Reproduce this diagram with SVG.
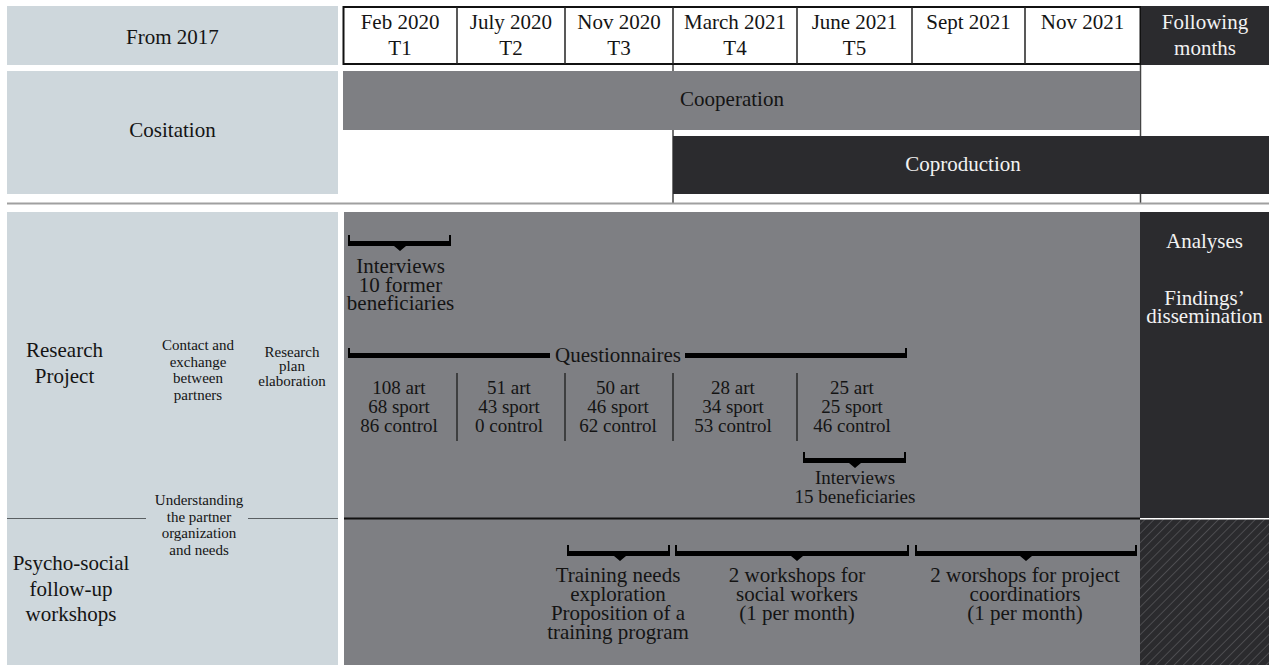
<svg xmlns="http://www.w3.org/2000/svg" width="1269" height="665" viewBox="0 0 1269 665">
<style>
text{font-family:'Liberation Serif','DejaVu Serif','Times New Roman',Times,serif;fill:#141414;text-anchor:middle}
.f21{font-size:21px}
.f19{font-size:19px}
.f15{font-size:15px}
.w{fill:#f2f2f2}
.panel{fill:#ced7dc}
.gray{fill:#7e7f83}
.dark{fill:#2b2b2e}
.br{fill:#000}
</style>
<defs>
<pattern id="hatch" patternUnits="userSpaceOnUse" width="6.5" height="6.5" patternTransform="rotate(45)">
<rect width="6.5" height="6.5" fill="#2b2b2e"/>
<line x1="0" y1="0" x2="0" y2="6.5" stroke="#606064" stroke-width="1.2"/>
</pattern>
</defs>
<rect width="1269" height="665" fill="#ffffff"/>

<g id="connectors">
<line x1="673" y1="64" x2="673" y2="203" stroke="#444" stroke-width="1.5"/>
<line x1="1140.5" y1="64" x2="1140.5" y2="203" stroke="#444" stroke-width="1.5"/>
<line x1="7" y1="203.5" x2="1269" y2="203.5" stroke="#a0a0a0" stroke-width="2"/>
</g>

<g id="from2017">
<rect class="panel" x="7" y="6" width="331" height="59"/>
<text class="f21" x="172.5" y="44" font-family="Liberation Serif, serif">From 2017</text>
</g>

<g id="header">
<rect x="343.5" y="7" width="797" height="57" fill="#fff" stroke="#111" stroke-width="2"/>
<g stroke="#222" stroke-width="1.5">
<line x1="457" y1="7" x2="457" y2="64"/>
<line x1="565" y1="7" x2="565" y2="64"/>
<line x1="673" y1="7" x2="673" y2="64"/>
<line x1="797" y1="7" x2="797" y2="64"/>
<line x1="912" y1="7" x2="912" y2="64"/>
<line x1="1025" y1="7" x2="1025" y2="64"/>
</g>
<text class="f21" x="400" y="29">Feb 2020</text>
<text class="f21" x="400" y="55">T1</text>
<text class="f21" x="511" y="29">July 2020</text>
<text class="f21" x="511" y="55">T2</text>
<text class="f21" x="619" y="29">Nov 2020</text>
<text class="f21" x="619" y="55">T3</text>
<text class="f21" x="735" y="29">March 2021</text>
<text class="f21" x="735" y="55">T4</text>
<text class="f21" x="854.5" y="29">June 2021</text>
<text class="f21" x="854.5" y="55">T5</text>
<text class="f21" x="968.5" y="29">Sept 2021</text>
<text class="f21" x="1082.5" y="29">Nov 2021</text>
</g>

<g id="following">
<rect class="dark" x="1141" y="6" width="128" height="59"/>
<text class="f21 w" x="1205" y="29">Following</text>
<text class="f21 w" x="1205" y="55">months</text>
</g>

<g id="cositation">
<rect class="panel" x="7" y="71" width="331" height="123"/>
<text class="f21" x="172.5" y="137">Cositation</text>
</g>

<g id="cooperation">
<rect class="gray" x="343" y="71" width="797" height="59"/>
<text class="f21" x="732" y="106">Cooperation</text>
</g>

<g id="coproduction">
<rect class="dark" x="673" y="136" width="596" height="58"/>
<text class="f21 w" x="963" y="171">Coproduction</text>
</g>

<g id="left-panel">
<rect class="panel" x="7" y="212" width="331" height="453"/>
<line x1="7" y1="518.5" x2="146" y2="518.5" stroke="#5a5f62" stroke-width="1.2"/>
<line x1="248" y1="518.5" x2="338" y2="518.5" stroke="#5a5f62" stroke-width="1.2"/>
</g>

<g id="research-project">
<text class="f21" x="64.5" y="357">Research</text>
<text class="f21" x="64.5" y="383">Project</text>
</g>

<g id="contact">
<text class="f15" x="198" y="350">Contact and</text>
<text class="f15" x="198" y="367">exchange</text>
<text class="f15" x="198" y="383">between</text>
<text class="f15" x="198" y="400">partners</text>
</g>

<g id="research-plan">
<text class="f15" x="292" y="357">Research</text>
<text class="f15" x="292" y="371">plan</text>
<text class="f15" x="292" y="386">elaboration</text>
</g>

<g id="understanding">
<text class="f15" x="199" y="505">Understanding</text>
<text class="f15" x="199" y="522">the partner</text>
<text class="f15" x="199" y="538">organization</text>
<text class="f15" x="199" y="555">and needs</text>
</g>

<g id="psycho-social">
<text class="f21" x="71" y="570">Psycho-social</text>
<text class="f21" x="71" y="596">follow-up</text>
<text class="f21" x="71" y="621">workshops</text>
</g>

<g id="main-area">
<rect class="gray" x="344" y="212" width="796" height="453"/>
<line x1="344" y1="518.5" x2="1140" y2="518.5" stroke="#111" stroke-width="2"/>
</g>

<g id="analyses">
<rect class="dark" x="1140" y="212" width="129" height="306"/>
<text class="f21 w" x="1204.5" y="248">Analyses</text>
<text class="f21 w" x="1204.5" y="305">Findings’</text>
<text class="f21 w" x="1204.5" y="323">dissemination</text>
</g>

<g id="hatched">
<rect x="1140" y="519.5" width="129" height="145.5" fill="url(#hatch)"/>
</g>

<g id="interviews-10">
<path class="br" d="M348 235 h2 v6 h99 v-6 h2 v11 H406 l-6 5 l-6 -5 H348 Z"/>
<text class="f21" x="400.5" y="273">Interviews</text>
<text class="f21" x="400.5" y="292">10 former</text>
<text class="f21" x="400.5" y="310">beneficiaries</text>
</g>

<g id="questionnaires">
<path class="br" d="M348 348 h2 v5 H550 v5 H348 Z"/>
<path class="br" d="M685 353 H905 v-5 h2 v10 H685 Z"/>
<text class="f21" x="618" y="362">Questionnaires</text>
<g stroke="#2a2a2a" stroke-width="1.5">
<line x1="457" y1="373" x2="457" y2="441"/>
<line x1="565" y1="373" x2="565" y2="441"/>
<line x1="673" y1="373" x2="673" y2="441"/>
<line x1="797" y1="373" x2="797" y2="441"/>
</g>
<text class="f19" x="399" y="394">108 art</text>
<text class="f19" x="399" y="413">68 sport</text>
<text class="f19" x="399" y="432">86 control</text>
<text class="f19" x="509" y="394">51 art</text>
<text class="f19" x="509" y="413">43 sport</text>
<text class="f19" x="509" y="432">0 control</text>
<text class="f19" x="618" y="394">50 art</text>
<text class="f19" x="618" y="413">46 sport</text>
<text class="f19" x="618" y="432">62 control</text>
<text class="f19" x="733" y="394">28 art</text>
<text class="f19" x="733" y="413">34 sport</text>
<text class="f19" x="733" y="432">53 control</text>
<text class="f19" x="852" y="394">25 art</text>
<text class="f19" x="852" y="413">25 sport</text>
<text class="f19" x="852" y="432">46 control</text>
</g>

<g id="interviews-15">
<path class="br" d="M803 452 h2 v6 h99 v-6 h2 v11 H861 l-6 5 l-6 -5 H803 Z"/>
<text class="f19" x="855" y="484">Interviews</text>
<text class="f19" x="855" y="503">15 beneficiaries</text>
</g>

<g id="training-needs">
<path class="br" d="M567 545 h2 v6 h99 v-6 h2 v11 H626 l-6 5 l-6 -5 H567 Z"/>
<text class="f21" x="618" y="582">Training needs</text>
<text class="f21" x="618" y="601">exploration</text>
<text class="f21" x="618" y="620">Proposition of a</text>
<text class="f21" x="618" y="639">training program</text>
</g>

<g id="workshops-social">
<path class="br" d="M675 545 h2 v6 h230 v-6 h2 v11 H803 l-6 5 l-6 -5 H675 Z"/>
<text class="f21" x="797" y="582">2 workshops for</text>
<text class="f21" x="797" y="601">social workers</text>
<text class="f21" x="797" y="620">(1 per month)</text>
</g>

<g id="workshops-coordinators">
<path class="br" d="M915 545 h2 v6 h218 v-6 h2 v11 H1032 l-6 5 l-6 -5 H915 Z"/>
<text class="f21" x="1025" y="582">2 worshops for project</text>
<text class="f21" x="1025" y="601">coordinatiors</text>
<text class="f21" x="1025" y="620">(1 per month)</text>
</g>
</svg>
